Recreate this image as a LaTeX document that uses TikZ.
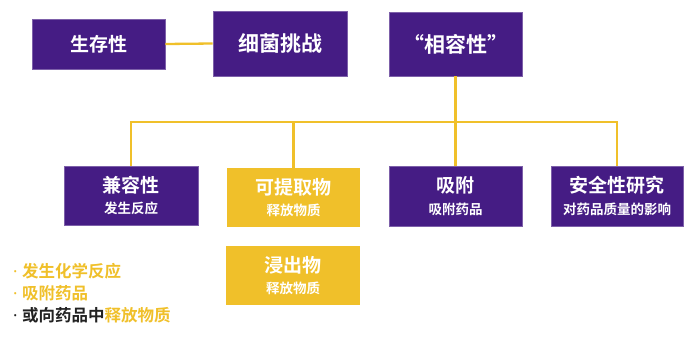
\documentclass[tikz,border=0pt]{standalone}
\usepackage{fontspec}
\setmainfont{Noto Sans CJK SC}[BoldFont=Noto Sans CJK SC Bold]
\newfontfamily\cjkb{Noto Sans CJK SC Bold}
\newfontfamily\latb{Noto Sans}
\definecolor{purp}{HTML}{451C84}
\definecolor{yel}{HTML}{F0C02A}
\definecolor{dark}{HTML}{222222}
\newcommand{\bul}{{\latb\bfseries\makebox[9pt][l]{·}}}
\begin{document}
\begin{tikzpicture}[x=1pt,y=-1pt,
  pbox/.style={fill=purp,draw=purp!70!white,line width=0.6pt,text=white,align=center,inner sep=0pt,font=\cjkb},
  ybox/.style={fill=yel,draw=none,text=white,align=center,inner sep=0pt,font=\cjkb},
  link/.style={draw=yel,line width=2.3pt},
  item/.style={anchor=west,inner sep=0pt,font=\cjkb\fontsize{16.5}{20}\selectfont}]
\useasboundingbox (0,0) rectangle (692,343);
\fill[white] (0,0) rectangle (692,343);
\node[pbox,minimum width=133pt,minimum height=50pt] (shengcun) at (98.5,44) {\fontsize{19}{22}\selectfont 生存性};
\node[pbox,minimum width=134pt,minimum height=65pt] (xijun) at (280,43.5) {\fontsize{21}{24}\selectfont 细菌挑战};
\node[pbox,minimum width=133pt,minimum height=64pt] (xiang) at (455.5,44) {\fontsize{21}{24}\selectfont “相容性”};
\node[pbox,minimum width=134pt,minimum height=59pt] (jian) at (131,195.5) {\fontsize{19}{24}\selectfont 兼容性\\[7pt]\fontsize{13.5}{16}\selectfont 发生反应};
\node[ybox,minimum width=133pt,minimum height=59pt] (keti) at (293.5,197.5) {\fontsize{19}{24}\selectfont 可提取物\\[7pt]\fontsize{13.5}{16}\selectfont 释放物质};
\node[pbox,minimum width=133pt,minimum height=60pt] (xifu) at (455.5,196) {\fontsize{19}{24}\selectfont 吸附\\[7pt]\fontsize{13.5}{16}\selectfont 吸附药品};
\node[pbox,minimum width=132pt,minimum height=60pt] (anquan) at (617,196) {\fontsize{19}{24}\selectfont 安全性研究\\[7pt]\fontsize{13.5}{16}\selectfont 对药品质量的影响};
\node[ybox,minimum width=134pt,minimum height=59pt] (jinchu) at (293,275.5) {\fontsize{19}{24}\selectfont 浸出物\\[7pt]\fontsize{13.5}{16}\selectfont 释放物质};
\coordinate (bus) at (455.5,122);
\draw[link] (shengcun.east) -- (xijun.west);
\draw[link] (xiang.south) -- (bus);
\draw[link] (jian.north) |- (bus) -| (anquan.north);
\draw[link] (keti.north) -- (keti.north |- bus);
\draw[link] (xifu.north) -- (bus);
\node[item,text=yel] (l1) at (13,271) {\bul 发生化学反应};
\node[item,text=yel] (l2) at (13,293) {\bul 吸附药品};
\node[item,text=dark] (l3) at (13,315.5) {\bul 或向药品中\textcolor{yel}{释放物质}};
\end{tikzpicture}
\end{document}
